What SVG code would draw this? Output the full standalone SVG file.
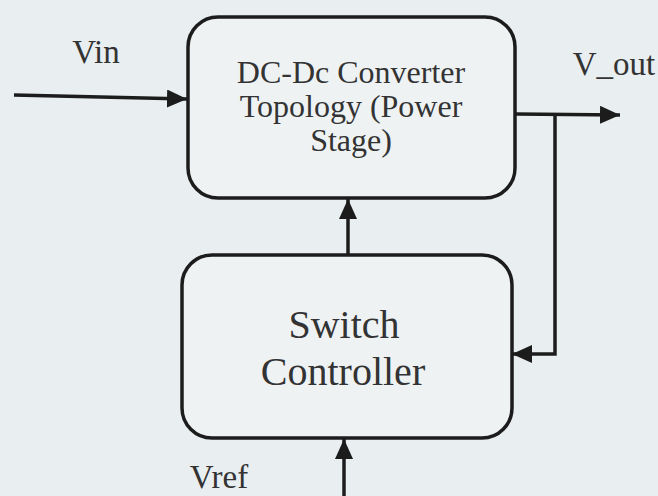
<svg xmlns="http://www.w3.org/2000/svg" width="658" height="496" viewBox="0 0 658 496">
<defs>
<style>
.box{fill:#eef2f3;stroke:#1c1c1c;stroke-width:3.5}
.ln{fill:none;stroke:#1c1c1c;stroke-width:3.5}
text{font-family:'Liberation Serif','Times New Roman',serif;fill:#333333;text-anchor:middle}
</style>
<marker id="a" markerWidth="20" markerHeight="18" refX="20" refY="9" orient="auto" markerUnits="userSpaceOnUse">
<path d="M0,0 L20,9 L0,18 Z" fill="#1c1c1c"/>
</marker>
</defs>
<rect width="658" height="496" fill="#e9eef0"/>
<g id="connectors">
<line class="ln" x1="14" y1="95" x2="187" y2="99" marker-end="url(#a)"/>
<polyline class="ln" points="516,114 620,115" marker-end="url(#a)"/>
<polyline class="ln" points="555,114 555,354 512,354" marker-end="url(#a)"/>
<line class="ln" x1="348" y1="256" x2="348" y2="199" marker-end="url(#a)"/>
<line class="ln" x1="344" y1="496" x2="344" y2="439" marker-end="url(#a)"/>
</g>
<g id="power-stage">
<rect class="box" x="188" y="17" width="327" height="181" rx="30"/>
<text font-family="'Liberation Serif', serif" font-size="32" x="351" y="83">DC-Dc Converter</text>
<text font-family="'Liberation Serif', serif" font-size="32" x="351" y="117">Topology (Power</text>
<text font-family="'Liberation Serif', serif" font-size="32" x="351" y="151">Stage)</text>
</g>
<g id="switch-controller">
<rect class="box" x="182" y="255" width="330" height="183" rx="30"/>
<text font-family="'Liberation Serif', serif" font-size="40" x="344" y="338">Switch</text>
<text font-family="'Liberation Serif', serif" font-size="40" x="343" y="385">Controller</text>
</g>
<g id="labels">
<text font-family="'Liberation Serif', serif" font-size="33" x="96" y="63">Vin</text>
<text font-family="'Liberation Serif', serif" font-size="33" x="614" y="75">V_out</text>
<text font-family="'Liberation Serif', serif" font-size="33" x="219" y="488">Vref</text>
</g>
</svg>
